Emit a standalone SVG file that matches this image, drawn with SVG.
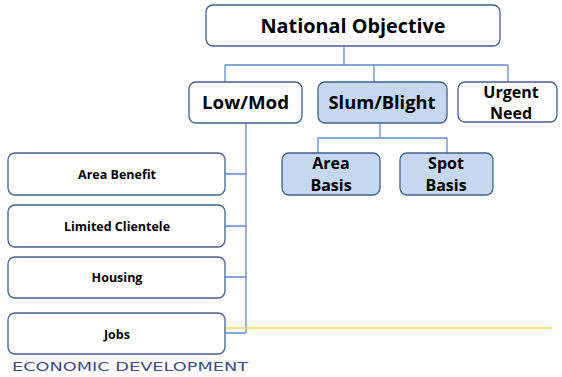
<svg xmlns="http://www.w3.org/2000/svg" width="562" height="377" viewBox="0 0 562 377">
<style>
.box{fill:#ffffff;stroke:#41608f;stroke-width:1.3}
.hl{fill:#c6d8ef;stroke:#41608f;stroke-width:1.3}
.t{font-family:"Open Sans","Liberation Sans",sans-serif;font-weight:bold;fill:#000;text-anchor:middle}
.c{fill:none;stroke:#5f8ccb;stroke-width:1.3}
</style>
<rect width="562" height="377" fill="#fff"/>
<g id="connectors">
<path class="c" d="M344 46V65M225 65H508M225 65V82M374 65V82M508 65V82"/>
<path class="c" d="M380 123V138M318 138H447M318 138V153M447 138V153"/>
<path class="c" d="M246 123V333M225 174H246M225 226H246M225 277H246M225 333H246"/>
<path d="M225 328H552" fill="none" stroke="#fdd468" stroke-width="1.3"/>
</g>
<g id="national-objective"><rect class="box" x="206" y="5" width="294" height="41" rx="7"/><text class="t" x="353" y="33" font-size="20" textLength="185" lengthAdjust="spacingAndGlyphs">National Objective</text></g>
<g id="low-mod"><rect class="box" x="189" y="82" width="113" height="41" rx="7"/><text class="t" x="245.5" y="109" font-size="17" textLength="87" lengthAdjust="spacingAndGlyphs">Low/Mod</text></g>
<g id="slum-blight"><rect class="hl" x="318" y="82" width="129" height="41" rx="7"/><text class="t" x="382" y="109" font-size="17" textLength="107" lengthAdjust="spacingAndGlyphs">Slum/Blight</text></g>
<g id="urgent-need"><rect class="box" x="458" y="82" width="99" height="40" rx="7"/><text class="t" x="511" y="98" font-size="16">Urgent</text><text class="t" x="511" y="119" font-size="16">Need</text></g>
<g id="area-basis"><rect class="hl" x="282" y="153" width="98" height="42" rx="7"/><text class="t" x="331" y="169" font-size="16">Area</text><text class="t" x="331" y="191" font-size="16">Basis</text></g>
<g id="spot-basis"><rect class="hl" x="400" y="153" width="93" height="42" rx="7"/><text class="t" x="446" y="169" font-size="16">Spot</text><text class="t" x="446" y="191" font-size="16">Basis</text></g>
<g id="area-benefit"><rect class="box" x="8" y="153" width="217" height="42" rx="7"/><text class="t" x="117" y="179" font-size="12.5">Area Benefit</text></g>
<g id="limited-clientele"><rect class="box" x="8" y="205" width="217" height="42" rx="7"/><text class="t" x="117" y="231" font-size="12.5">Limited Clientele</text></g>
<g id="housing"><rect class="box" x="8" y="257" width="217" height="41" rx="7"/><text class="t" x="117" y="282" font-size="12.5">Housing</text></g>
<g id="jobs"><rect class="box" x="8" y="313" width="217" height="41" rx="7"/><text class="t" x="117" y="339" font-size="12.5">Jobs</text></g>
<text x="12" y="371" font-family="'DejaVu Sans','Liberation Sans',sans-serif" font-size="13" fill="#3d4a8c" textLength="236" lengthAdjust="spacingAndGlyphs">ECONOMIC DEVELOPMENT</text>
</svg>
